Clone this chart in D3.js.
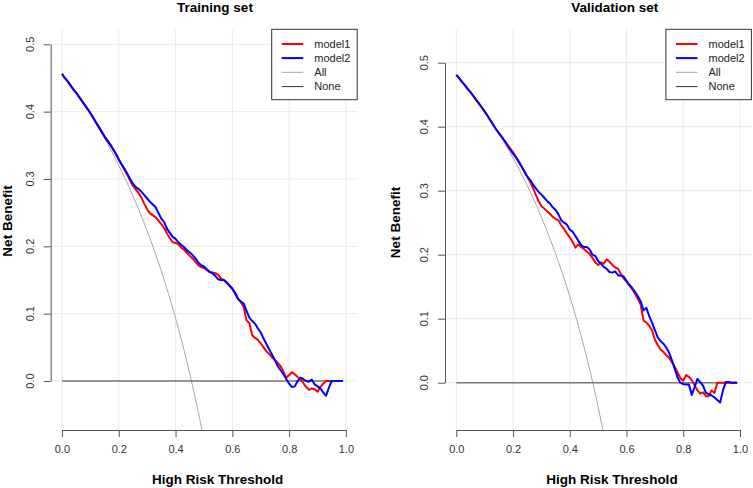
<!DOCTYPE html>
<html>
<head>
<meta charset="utf-8">
<script src="https://cdn.jsdelivr.net/npm/d3@7"></script>
<style>
  html, body { margin: 0; padding: 0; background: #fff; }
  svg { display: block; font-family: "Liberation Sans", Arial, sans-serif; }
</style>
</head>
<body>
<svg id="chart" width="753" height="488"></svg>
<script>
// ---------- data ----------
const thresholds = [
  0.00,0.01,0.02,0.03,0.04,0.05,0.06,0.07,0.08,0.09,
  0.10,0.11,0.12,0.13,0.14,0.15,0.16,0.17,0.18,0.19,
  0.20,0.21,0.22,0.23,0.24,0.25,0.26,0.27,0.28,0.29,
  0.30,0.31,0.32,0.33,0.34,0.35,0.36,0.37,0.38,0.39,
  0.40,0.41,0.42,0.43,0.44,0.45,0.46,0.47,0.48,0.49,
  0.50,0.51,0.52,0.53,0.54,0.55,0.56,0.57,0.58,0.59,
  0.60,0.61,0.62,0.63,0.64,0.65,0.66,0.67,0.68,0.69,
  0.70,0.71,0.72,0.73,0.74,0.75,0.76,0.77,0.78,0.79,
  0.80,0.81,0.82,0.83,0.84,0.85,0.86,0.87,0.88,0.89,
  0.90,0.91,0.92,0.93,0.94,0.95,0.96,0.97,0.98,0.99
];

const trainModel1 = [
  0.456,0.450,0.445,0.439,0.433,0.428,0.422,0.416,0.410,0.404,
  0.398,0.391,0.384,0.377,0.370,0.363,0.357,0.351,0.344,0.337,
  0.329,0.321,0.314,0.306,0.298,0.290,0.284,0.279,0.272,0.263,
  0.255,0.249,0.246,0.243,0.238,0.233,0.227,0.219,0.212,0.206,
  0.205,0.203,0.198,0.195,0.190,0.186,0.182,0.177,0.172,0.169,
  0.168,0.165,0.162,0.161,0.160,0.158,0.152,0.150,0.147,0.141,
  0.137,0.129,0.122,0.117,0.110,0.090,0.086,0.068,0.064,0.061,
  0.056,0.050,0.044,0.040,0.035,0.031,0.027,0.022,0.014,0.005,
  0.009,0.013,0.010,0.006,0.003,-0.003,-0.009,-0.013,-0.011,-0.012,
  -0.016,-0.009,-0.004,0.000,0.000,0.000,0.000,0.000,0.000,0.000
];
const trainModel2 = [
  0.456,0.450,0.445,0.439,0.433,0.428,0.422,0.416,0.410,0.404,
  0.398,0.391,0.384,0.377,0.370,0.363,0.357,0.351,0.344,0.337,
  0.329,0.322,0.315,0.308,0.300,0.293,0.288,0.285,0.281,0.276,
  0.271,0.266,0.262,0.258,0.249,0.241,0.236,0.226,0.220,0.214,
  0.211,0.206,0.202,0.199,0.194,0.191,0.187,0.182,0.176,0.172,
  0.170,0.166,0.162,0.160,0.156,0.151,0.150,0.150,0.146,0.142,
  0.137,0.131,0.122,0.118,0.115,0.104,0.094,0.089,0.085,0.078,
  0.072,0.063,0.055,0.047,0.039,0.031,0.022,0.016,0.010,0.003,
  -0.004,-0.009,-0.008,0.000,0.005,0.003,0.000,-0.001,0.002,-0.005,
  -0.008,-0.011,-0.017,-0.022,-0.010,0.000,0.000,0.000,0.000,0.000
];

const validModel1 = [
  0.481,0.476,0.470,0.465,0.459,0.454,0.448,0.442,0.436,0.430,
  0.424,0.417,0.410,0.403,0.396,0.390,0.384,0.378,0.372,0.366,
  0.360,0.353,0.346,0.338,0.330,0.322,0.314,0.305,0.294,0.284,
  0.276,0.272,0.268,0.264,0.259,0.256,0.254,0.246,0.240,0.233,
  0.227,0.220,0.211,0.216,0.212,0.209,0.205,0.201,0.195,0.188,
  0.184,0.188,0.186,0.193,0.189,0.184,0.180,0.178,0.170,0.163,
  0.158,0.152,0.146,0.139,0.131,0.122,0.097,0.094,0.089,0.082,
  0.067,0.059,0.052,0.048,0.043,0.039,0.032,0.025,0.016,0.007,
  0.003,0.012,0.009,0.004,-0.004,-0.012,-0.017,-0.015,-0.021,-0.021,
  -0.012,-0.016,0.000,0.000,0.000,0.000,0.000,0.000,0.000,0.000
];
const validModel2 = [
  0.481,0.476,0.470,0.465,0.459,0.454,0.448,0.442,0.436,0.430,
  0.424,0.417,0.410,0.403,0.396,0.390,0.384,0.378,0.371,0.364,
  0.358,0.352,0.345,0.338,0.330,0.322,0.317,0.310,0.304,0.298,
  0.294,0.289,0.284,0.280,0.274,0.270,0.263,0.254,0.250,0.247,
  0.239,0.236,0.229,0.222,0.215,0.212,0.212,0.208,0.200,0.198,
  0.190,0.186,0.181,0.178,0.173,0.172,0.174,0.168,0.167,0.166,
  0.159,0.153,0.148,0.142,0.135,0.127,0.113,0.117,0.104,0.094,
  0.082,0.071,0.065,0.061,0.055,0.047,0.035,0.022,0.008,0.000,
  -0.002,-0.003,-0.003,-0.019,-0.007,0.006,0.001,-0.005,-0.016,-0.018,
  -0.020,-0.023,-0.027,-0.031,-0.012,0.001,0.001,0.000,0.000,0.000
];

const allThresholds = [0.00,0.05,0.10,0.15,0.20,0.25,0.30,0.35,0.40,0.45,0.50,0.55];
const trainAll = [0.456,0.4274,0.3956,0.3600,0.3200,0.2747,0.2229,0.1631,0.0933,0.0109,-0.0880,-0.2087];
const validAll = [0.481,0.4537,0.4233,0.3894,0.3512,0.3080,0.2586,0.2015,0.1350,0.0564,-0.0380,-0.1533];

const noneThresholds = [0.00, 0.99];
const noneValues = [0, 0];

const xTicks = [0, 0.2, 0.4, 0.6, 0.8, 1.0];
const yTicks = [0, 0.1, 0.2, 0.3, 0.4, 0.5];

const legendLabels = ["model1", "model2", "All", "None"];
const panelTitles = ["Training set", "Validation set"];
const xLabel = "High Risk Threshold";
const yLabel = "Net Benefit";

// ---------- drawing ----------
const svg = d3.select("#chart");
const fmt = d3.format(".1f");

const panels = [
  {
    title: panelTitles[0], m1: trainModel1, m2: trainModel2, all: trainAll,
    xr: [62, 345.9], yr: [381, 44.3],
    region: {x0: 50.7, x1: 357.2, y0: 29.3, y1: 430},
    titleX: 215, xlabX: 217.7, ylabX: 7, ylabY: 221, tickLabX: 30,
    noneColor: "#333", noneWidth: 1
  },
  {
    title: panelTitles[1], m1: validModel1, m2: validModel2, all: validAll,
    xr: [456.3, 740], yr: [382.7, 62.7],
    region: {x0: 445, x1: 751.4, y0: 29.3, y1: 430},
    titleX: 614.8, xlabX: 612, ylabX: 395.5, ylabY: 222.5, tickLabX: 424.3,
    noneColor: "#777", noneWidth: 1.6
  }
];

const styles = [
  {color: "#ff0000", width: 2},
  {color: "#0000ff", width: 2},
  {color: "#a8a8a8", width: 1},
  {color: "#333333", width: 1}
];

panels.forEach((p, i) => {
  const g = svg.append("g");
  const x = d3.scaleLinear().domain([0, 1]).range(p.xr);
  const y = d3.scaleLinear().domain([0, 0.5]).range(p.yr);
  const r = p.region;

  const clipId = "clip" + i;
  svg.append("defs").append("clipPath").attr("id", clipId)
    .append("rect").attr("x", r.x0).attr("y", r.y0)
    .attr("width", r.x1 - r.x0).attr("height", r.y1 - r.y0);

  // grid
  g.append("g").selectAll("line.v").data(xTicks).join("line")
    .attr("x1", d => x(d)).attr("x2", d => x(d))
    .attr("y1", r.y0).attr("y2", r.y1)
    .attr("stroke", "#ebebeb").attr("stroke-width", 1);
  g.append("g").selectAll("line.h").data(yTicks).join("line")
    .attr("x1", r.x0).attr("x2", r.x1)
    .attr("y1", d => y(d)).attr("y2", d => y(d))
    .attr("stroke", "#ebebeb").attr("stroke-width", 1);

  const plot = g.append("g").attr("clip-path", `url(#${clipId})`);

  const lineXY = d3.line().x(d => x(d[0])).y(d => y(d[1]));

  // All
  plot.append("path")
    .datum(allThresholds.map((t, k) => [t, p.all[k]]))
    .attr("d", d3.line().x(d => x(d[0])).y(d => y(d[1])).curve(d3.curveMonotoneX))
    .attr("fill", "none").attr("stroke", styles[2].color).attr("stroke-width", styles[2].width);

  // None
  plot.append("path")
    .datum(noneThresholds.map((t, k) => [t, noneValues[k]]))
    .attr("d", lineXY)
    .attr("fill", "none").attr("stroke", p.noneColor).attr("stroke-width", p.noneWidth);

  // models
  [p.m1, p.m2].forEach((vals, k) => {
    plot.append("path")
      .datum(thresholds.map((t, j) => [t, vals[j]]))
      .attr("d", lineXY)
      .attr("fill", "none")
      .attr("stroke", styles[k].color)
      .attr("stroke-width", styles[k].width)
      .attr("stroke-linejoin", "round");
  });

  // axes
  const xAxis = d3.axisBottom(x).tickValues(xTicks).tickFormat(fmt)
    .tickSize(7).tickSizeOuter(0).tickPadding(8);
  const xg = g.append("g").attr("transform", `translate(0,${r.y1})`).call(xAxis);
  xg.select(".domain").attr("stroke", "#555");
  xg.selectAll(".tick line").attr("stroke", "#555");
  xg.selectAll(".tick text").attr("fill", "#333").attr("font-size", 11)
    .attr("font-family", "Liberation Sans, Arial, sans-serif");

  const yAxis = d3.axisLeft(y).tickValues(yTicks).tickFormat("")
    .tickSize(7).tickSizeOuter(0);
  const yg = g.append("g").attr("transform", `translate(${r.x0},0)`).call(yAxis);
  yg.select(".domain").attr("stroke", "#555");
  yg.selectAll(".tick line").attr("stroke", "#555");

  g.append("g").selectAll("text").data(yTicks).join("text")
    .attr("transform", d => `translate(${p.tickLabX},${y(d)}) rotate(-90)`)
    .attr("text-anchor", "middle").attr("dy", "0.35em")
    .attr("font-size", 11).attr("fill", "#333")
    .text(d => fmt(d));

  // titles
  g.append("text").attr("x", p.titleX).attr("y", 12)
    .attr("text-anchor", "middle").attr("font-weight", "bold")
    .attr("font-size", 13.5).attr("fill", "#000").text(p.title);
  g.append("text").attr("x", p.xlabX).attr("y", 484)
    .attr("text-anchor", "middle").attr("font-weight", "bold")
    .attr("font-size", 13.5).attr("fill", "#000").text(xLabel);
  g.append("text")
    .attr("transform", `translate(${p.ylabX},${p.ylabY}) rotate(-90)`)
    .attr("text-anchor", "middle").attr("dy", "0.36em").attr("font-weight", "bold")
    .attr("font-size", 13.5).attr("fill", "#000").text(yLabel);

  // legend
  const lw = 85.5, lh = 70.4;
  const lg = g.append("g").attr("transform", `translate(${r.x1 - lw},${r.y0})`);
  lg.append("rect").attr("x", 0).attr("y", 0).attr("width", lw).attr("height", lh)
    .attr("fill", "#fff").attr("stroke", "#333").attr("stroke-width", 1);
  const rowY = [14.7, 28.8, 43.0, 57.3];
  legendLabels.forEach((lab, k) => {
    const st = k === 3 ? {color: p.noneColor === "#777" ? "#333" : "#333", width: 1} : styles[k];
    lg.append("line").attr("x1", 10).attr("x2", 31.6)
      .attr("y1", rowY[k]).attr("y2", rowY[k])
      .attr("stroke", st.color).attr("stroke-width", st.width);
    lg.append("text").attr("x", 42.6).attr("y", rowY[k]).attr("dy", "0.35em")
      .attr("font-size", 11).attr("fill", "#222").text(lab);
  });
});
</script>
</body>
</html>
